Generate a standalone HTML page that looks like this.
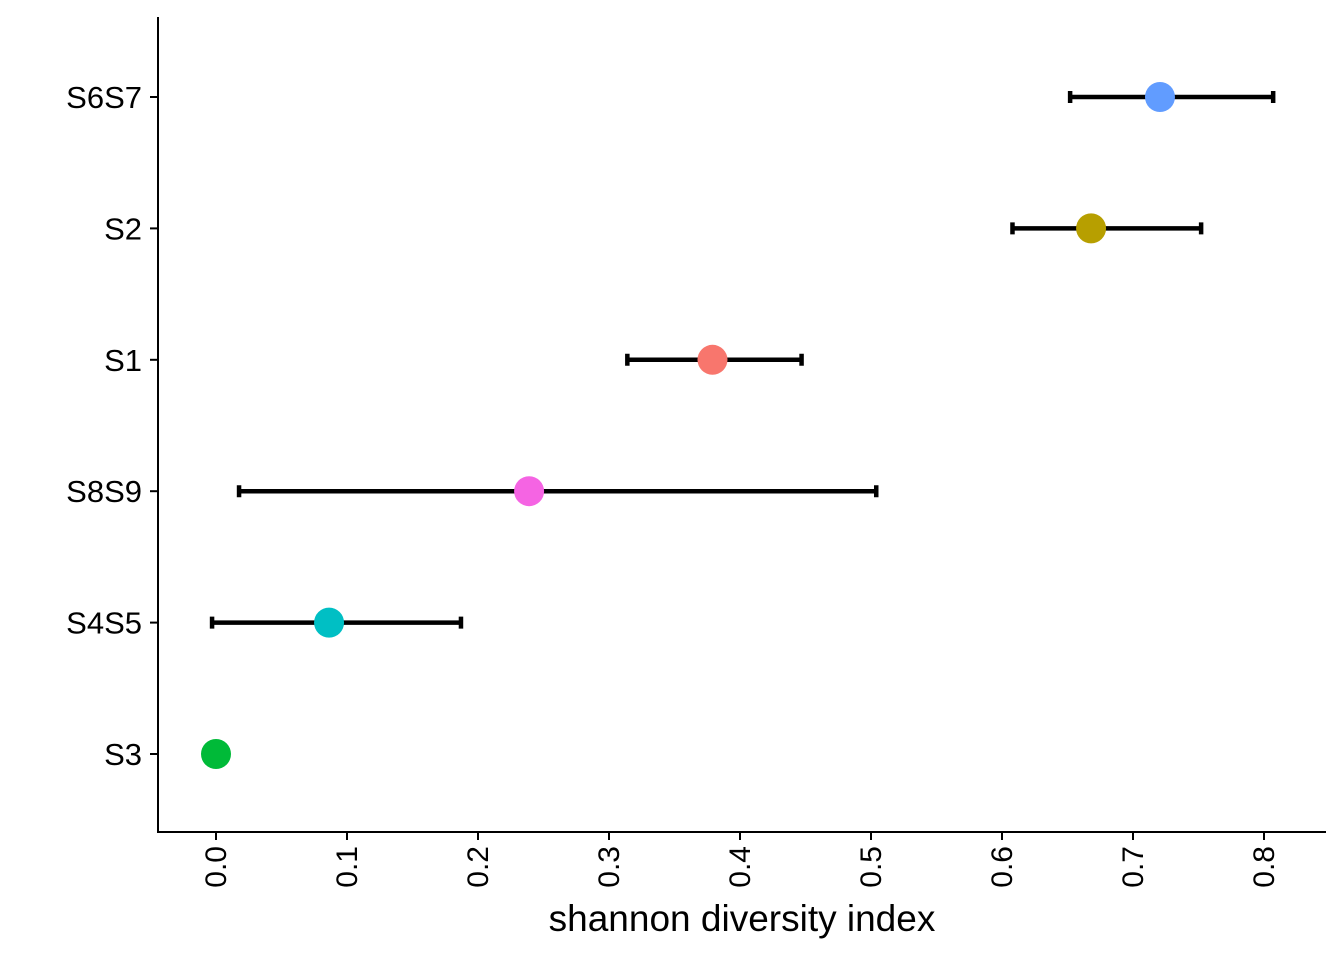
<!DOCTYPE html>
<html><head><meta charset="utf-8"><style>
body{margin:0;background:#fff}
svg{display:block;font-family:"Liberation Sans",Arial,sans-serif}
</style></head><body>
<svg id="chart" width="1344" height="960" viewBox="0 0 1344 960"></svg>
<script>
const categories=["S3","S4S5","S8S9","S1","S2","S6S7"];
const means=[0,0.0863,0.239,0.379,0.668,0.7206];
const lowers=[null,-0.003,0.0176,0.314,0.608,0.652];
const uppers=[null,0.187,0.504,0.447,0.752,0.807];
const colors=["#00BA38","#00BFC4","#F564E3","#F8766D","#B79F00","#619CFF"];
const xTicks=[0,0.1,0.2,0.3,0.4,0.5,0.6,0.7,0.8];
const xTickLabels=["0.0","0.1","0.2","0.3","0.4","0.5","0.6","0.7","0.8"];
const NS="http://www.w3.org/2000/svg";
const svg=document.getElementById('chart');
const xs=v=>216+v*1310;
const ys=i=>754-i*131.4;
function mk(t,a){const e=document.createElementNS(NS,t);for(const k in a)e.setAttribute(k,a[k]);svg.appendChild(e);return e;}
let e;
e=mk('line',{x1:158,y1:17,x2:158,y2:833,stroke:'#000','stroke-width':2});


e=mk('line',{x1:157,y1:832,x2:1326,y2:832,stroke:'#000','stroke-width':2});


xTicks.forEach((v,i)=>{
 const x=xs(v);
 e=mk('line',{x1:x,y1:832,x2:x,y2:840,stroke:'#000','stroke-width':2});
 
 
 e=mk('text',{x:0,y:0,'font-size':30,'text-anchor':'end',transform:`translate(${x+10},846) rotate(-90)`});
 e.textContent=xTickLabels[i];
 
 
});
categories.forEach((c,i)=>{
 const y=ys(i);
 e=mk('line',{x1:150,y1:y,x2:158,y2:y,stroke:'#000','stroke-width':2});
 
 
 e=mk('text',{x:142,y:y+11,'font-size':31,'text-anchor':'end'});
 e.textContent=c;
 
 
 if(lowers[i]!==null){
  const x1=xs(lowers[i]),x2=xs(uppers[i]);
  e=mk('path',{d:`M${x1},${y}H${x2}M${x1},${y-6}V${y+6}M${x2},${y-6}V${y+6}`,stroke:'#000','stroke-width':4.5,fill:'none'});
  
  
 }
 e=mk('circle',{cx:xs(means[i]),cy:y,r:15,fill:colors[i]});
 
 
});
e=mk('text',{x:742,y:931,'font-size':37,'text-anchor':'middle'});
e.textContent='shannon diversity index';


</script>
</body></html>
